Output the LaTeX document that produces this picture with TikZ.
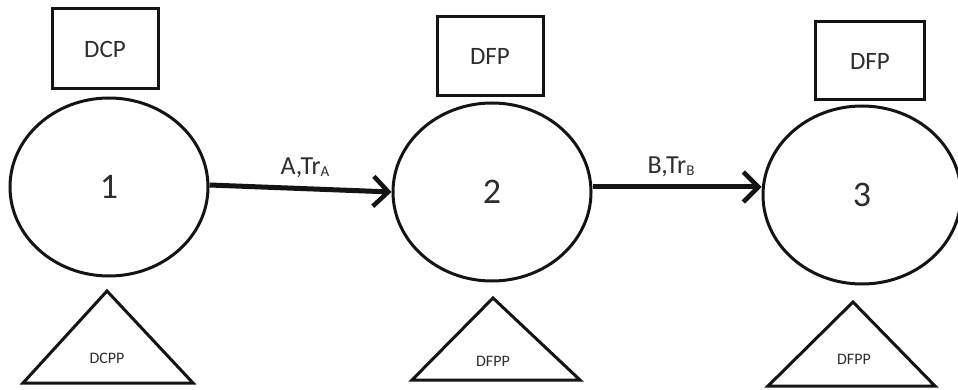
\documentclass[tikz,border=0pt]{standalone}
\usepackage{fontspec}
\setmainfont{Carlito}
\usetikzlibrary{shapes.geometric,arrows.meta}
\definecolor{ink}{HTML}{141414}
\definecolor{txt}{HTML}{2E2E2E}
\tikzset{
  state/.style={ellipse, draw=ink, line width=3pt, minimum width=198pt, minimum height=178pt, inner sep=0pt, text=txt, font=\fontsize{36}{36}\selectfont},
  memo/.style={rectangle, draw=ink, line width=3pt, inner sep=0pt, text=txt, font=\fontsize{25}{25}\selectfont},
  tri/.style={draw=ink, line width=3pt, line join=miter},
  trilabel/.style={text=txt, inner sep=0pt, font=\fontsize{16}{16}\selectfont},
  flow/.style={draw=ink, line width=5pt, -{Straight Barb[length=15pt,width=30pt,line width=4.5pt]}},
  flowlabel/.style={text=txt, inner sep=0pt, font=\fontsize{26}{26}\selectfont}
}
\newcommand{\subtxt}[1]{\raisebox{-2pt}{\fontsize{15}{15}\selectfont #1}}
\begin{document}
\begin{tikzpicture}[x=1pt,y=-1pt]
\fill[white] (0,0) rectangle (958,390);
\useasboundingbox (0,0) rectangle (958,390);
% states
\node[state] (n1) at (109,187) {1};
\node[state] (n2) at (492,192) {2};
\node[state] (n3) at (862,195) {3};
% boxes
\node[memo, minimum width=106pt, minimum height=80pt] (b1) at (105,49) {DCP};
\node[memo, minimum width=106pt, minimum height=79pt] (b2) at (490,56) {DFP};
\node[memo, minimum width=109pt, minimum height=78pt] (b3) at (870,61) {DFP};
% triangles
\draw[tri] (107,291) -- (193,383) -- (23,383) -- cycle;
\node[trilabel] (t1) at (107,358) {DCPP};
\draw[tri] (493,298) -- (580,380) -- (412,380) -- cycle;
\node[trilabel] (t2) at (493,361) {DFPP};
\draw[tri] (853,302) -- (935,386) -- (768,386) -- cycle;
\node[trilabel] (t3) at (854,359) {DFPP};
% flows
\draw[flow] ([yshift=2pt]n1.east) -- (n2.west);
\draw[flow] ([yshift=5pt]n2.east) -- ([yshift=8pt]n3.west);
\node[flowlabel] (la) at (305,168) {A,Tr\subtxt{A}};
\node[flowlabel] (lb) at (671,167) {B,Tr\subtxt{B}};
\end{tikzpicture}
\end{document}
